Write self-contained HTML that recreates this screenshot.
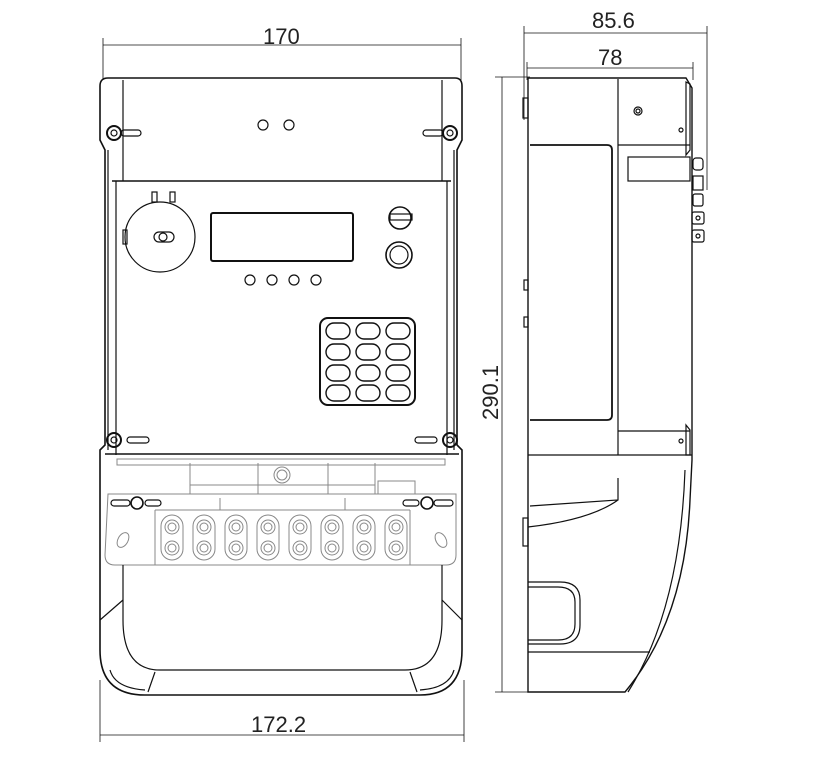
<!DOCTYPE html>
<html><head><meta charset="utf-8"><style>
html,body{margin:0;padding:0;background:#fff;}
svg{display:block}
text{font-family:"Liberation Sans",sans-serif;font-size:22px;fill:#222;}
</style></head><body>
<svg width="817" height="760" viewBox="0 0 817 760" xmlns="http://www.w3.org/2000/svg" fill="none" stroke="#111" stroke-width="1.2">
<!-- dimensions front -->
<g stroke-width="0.8">
<line x1="103" y1="38" x2="103" y2="80"/><line x1="461" y1="38" x2="461" y2="80"/>
<line x1="103" y1="45" x2="461" y2="45"/>
<line x1="100" y1="680" x2="100" y2="742"/><line x1="464" y1="680" x2="464" y2="742"/>
<line x1="100" y1="735" x2="464" y2="735"/>
</g>
<text x="263" y="44" stroke="none">170</text>
<text x="251" y="732" stroke="none">172.2</text>
<!-- front outer body -->
<path d="M108 78 L455 78 Q462 78 462 86 L462 140 L457 150 L457 445 L462 450 L462 650 Q462 695 420 695 L145 695 Q100 695 100 650 L100 450 L105 445 L105 150 L100 140 L100 86 Q100 78 108 78 Z" stroke-width="1.6"/>
<line x1="123" y1="80" x2="123" y2="181"/><line x1="442" y1="80" x2="442" y2="181"/>
<line x1="112" y1="181" x2="451" y2="181" stroke-width="1.6"/>
<line x1="116" y1="181" x2="116" y2="455"/><line x1="447" y1="181" x2="447" y2="455"/>
<line x1="108" y1="150" x2="108" y2="450"/><line x1="454" y1="150" x2="454" y2="450"/>
<!-- top holes -->
<circle cx="263" cy="125" r="5"/><circle cx="289" cy="125" r="5"/>
<!-- screws -->
<g>
<circle cx="114" cy="133" r="7" stroke-width="2"/><circle cx="114" cy="133" r="3"/>
<circle cx="450" cy="133" r="7" stroke-width="2"/><circle cx="450" cy="133" r="3"/>
<circle cx="114" cy="440" r="7" stroke-width="2"/><circle cx="114" cy="440" r="3"/>
<circle cx="450" cy="440" r="7" stroke-width="2"/><circle cx="450" cy="440" r="3"/>
<rect x="121" y="130" width="20" height="6" rx="3"/><rect x="423" y="130" width="20" height="6" rx="3"/>
<rect x="127" y="437" width="22" height="6" rx="3"/><rect x="415" y="437" width="22" height="6" rx="3"/>
</g>
<!-- dial -->
<circle cx="160" cy="237" r="35"/>
<rect x="152" y="192" width="5" height="10"/><rect x="170" y="192" width="5" height="10"/>
<rect x="154" y="232" width="20" height="10" rx="5"/><circle cx="163" cy="237" r="4"/>
<rect x="123" y="230" width="4" height="14"/>
<!-- LCD -->
<rect x="211" y="213" width="142" height="48" rx="2" stroke-width="2"/>
<!-- right knobs -->
<circle cx="400" cy="218" r="11" stroke-width="1.6"/><rect x="390" y="214" width="22" height="6"/>
<circle cx="399" cy="255" r="13" stroke-width="1.6"/><circle cx="399" cy="255" r="9"/>
<!-- led holes -->
<circle cx="250" cy="280" r="5"/><circle cx="272" cy="280" r="5"/><circle cx="294" cy="280" r="5"/><circle cx="316" cy="280" r="5"/>
<!-- keypad -->
<rect x="320" y="318" width="95" height="87" rx="8" stroke-width="2"/>
<g stroke-width="1.4">
<rect x="326" y="323" width="24" height="16" rx="8"/><rect x="356" y="323" width="24" height="16" rx="8"/><rect x="386" y="323" width="24" height="16" rx="8"/>
<rect x="326" y="344" width="24" height="16" rx="8"/><rect x="356" y="344" width="24" height="16" rx="8"/><rect x="386" y="344" width="24" height="16" rx="8"/>
<rect x="326" y="365" width="24" height="16" rx="8"/><rect x="356" y="365" width="24" height="16" rx="8"/><rect x="386" y="365" width="24" height="16" rx="8"/>
<rect x="326" y="385" width="24" height="16" rx="8"/><rect x="356" y="385" width="24" height="16" rx="8"/><rect x="386" y="385" width="24" height="16" rx="8"/>
</g>
<!-- terminal cover -->
<line x1="105" y1="454" x2="459" y2="454" stroke-width="1.6"/>
<g stroke="#888" stroke-width="1">
<rect x="117" y="459" width="328" height="6"/>
<line x1="190" y1="463" x2="190" y2="494"/><line x1="258" y1="463" x2="258" y2="494"/><line x1="328" y1="463" x2="328" y2="494"/><line x1="375" y1="463" x2="375" y2="494"/>
<line x1="190" y1="485" x2="375" y2="485"/>
<rect x="378" y="481" width="37" height="13"/>
<circle cx="282" cy="475" r="8"/><circle cx="282" cy="475" r="5"/>
<path d="M108 494 L456 494 L456 555 Q456 565 446 565 L115 565 Q105 565 105 555 Z"/>
<line x1="155" y1="510" x2="410" y2="510"/>
<line x1="155" y1="510" x2="155" y2="565"/><line x1="410" y1="510" x2="410" y2="565"/>
<line x1="220" y1="498" x2="220" y2="510"/><line x1="345" y1="498" x2="345" y2="510"/>
<ellipse cx="123" cy="540" rx="5" ry="8" transform="rotate(30 123 540)"/>
<ellipse cx="441" cy="540" rx="5" ry="8" transform="rotate(-30 441 540)"/>
<g id="t"><rect x="161" y="515" width="22" height="45" rx="11"/><circle cx="172" cy="527" r="7"/><circle cx="172" cy="548" r="7"/><circle cx="172" cy="527" r="4"/><circle cx="172" cy="548" r="4"/></g>
<use href="#t" x="32"/><use href="#t" x="64"/><use href="#t" x="96"/><use href="#t" x="128"/><use href="#t" x="160"/><use href="#t" x="192"/><use href="#t" x="224"/>
</g>
<circle cx="137" cy="503" r="6" stroke-width="1.6"/><circle cx="427" cy="503" r="6" stroke-width="1.6"/>
<rect x="111" y="500" width="19" height="6" rx="3"/><rect x="145" y="500" width="16" height="6" rx="3"/>
<rect x="403" y="500" width="16" height="6" rx="3"/><rect x="434" y="500" width="19" height="6" rx="3"/>
<!-- lower shell -->
<path d="M123 565 L123 620 Q123 670 160 670 L405 670 Q442 670 442 620 L442 565"/>
<path d="M100 620 L123 600 M462 620 L442 600"/>
<path d="M155 672 L148 692 M410 672 L417 692"/>
<path d="M110 670 Q115 688 145 690 M454 670 Q449 688 420 690"/>
<!-- side dimensions -->
<g stroke-width="0.8">
<line x1="524" y1="26" x2="524" y2="120"/><line x1="707" y1="26" x2="707" y2="190"/>
<line x1="524" y1="33" x2="707" y2="33"/>
<line x1="527" y1="62" x2="527" y2="80"/><line x1="693" y1="62" x2="693" y2="80"/>
<line x1="527" y1="68" x2="693" y2="68"/>
<line x1="495" y1="77" x2="530" y2="77"/><line x1="495" y1="692" x2="625" y2="692"/>
<line x1="502" y1="77" x2="502" y2="692"/>
</g>
<text x="592" y="28" stroke="none">85.6</text>
<text x="598" y="65" stroke="none">78</text>
<text transform="translate(498 420) rotate(-90)" stroke="none">290.1</text>
<!-- side view -->
<path d="M528 78 L686 78 L692 88 L692 460 L690 500 Q685 620 625 692 L528 692 Z" stroke-width="1.4"/>
<line x1="618" y1="79" x2="618" y2="455"/>
<line x1="618" y1="145" x2="690" y2="145"/><line x1="618" y1="431" x2="690" y2="431"/>
<line x1="528" y1="455" x2="692" y2="455"/>
<path d="M530 145 L607 145 Q612 145 612 150 L612 415 Q612 420 607 420 L530 420" stroke-width="1.8"/>
<rect x="628" y="157" width="62" height="24"/>
<circle cx="638" cy="111" r="4"/><circle cx="638" cy="111" r="2"/>
<circle cx="681" cy="130" r="2"/><circle cx="681" cy="441" r="2"/>
<path d="M686 82 L690 84 L690 150 L686 155 Z"/><path d="M686 425 L690 430 L690 455 L686 455 Z"/>
<path d="M530 506 L618 500 L618 478 M528 527 Q590 520 618 500"/>
<path d="M528 582 L560 582 Q580 582 580 600 L580 625 Q580 644 560 644 L528 644"/>
<path d="M528 587 L558 587 Q575 587 575 602 L575 624 Q575 640 558 640 L528 640"/>
<line x1="528" y1="652" x2="650" y2="652"/>
<path d="M685 470 Q680 610 628 692"/>
<rect x="523" y="98" width="5" height="20"/><rect x="523" y="518" width="5" height="28"/>
<rect x="524" y="280" width="4" height="10"/><rect x="524" y="317" width="4" height="10"/>
<rect x="693" y="158" width="10" height="12" rx="3"/><rect x="693" y="176" width="10" height="14"/>
<rect x="693" y="194" width="10" height="12" rx="2"/>
<rect x="692" y="212" width="12" height="12" rx="2"/><circle cx="698" cy="218" r="2"/>
<rect x="692" y="230" width="12" height="12" rx="2"/><circle cx="698" cy="236" r="2"/>
</svg>
</body></html>
